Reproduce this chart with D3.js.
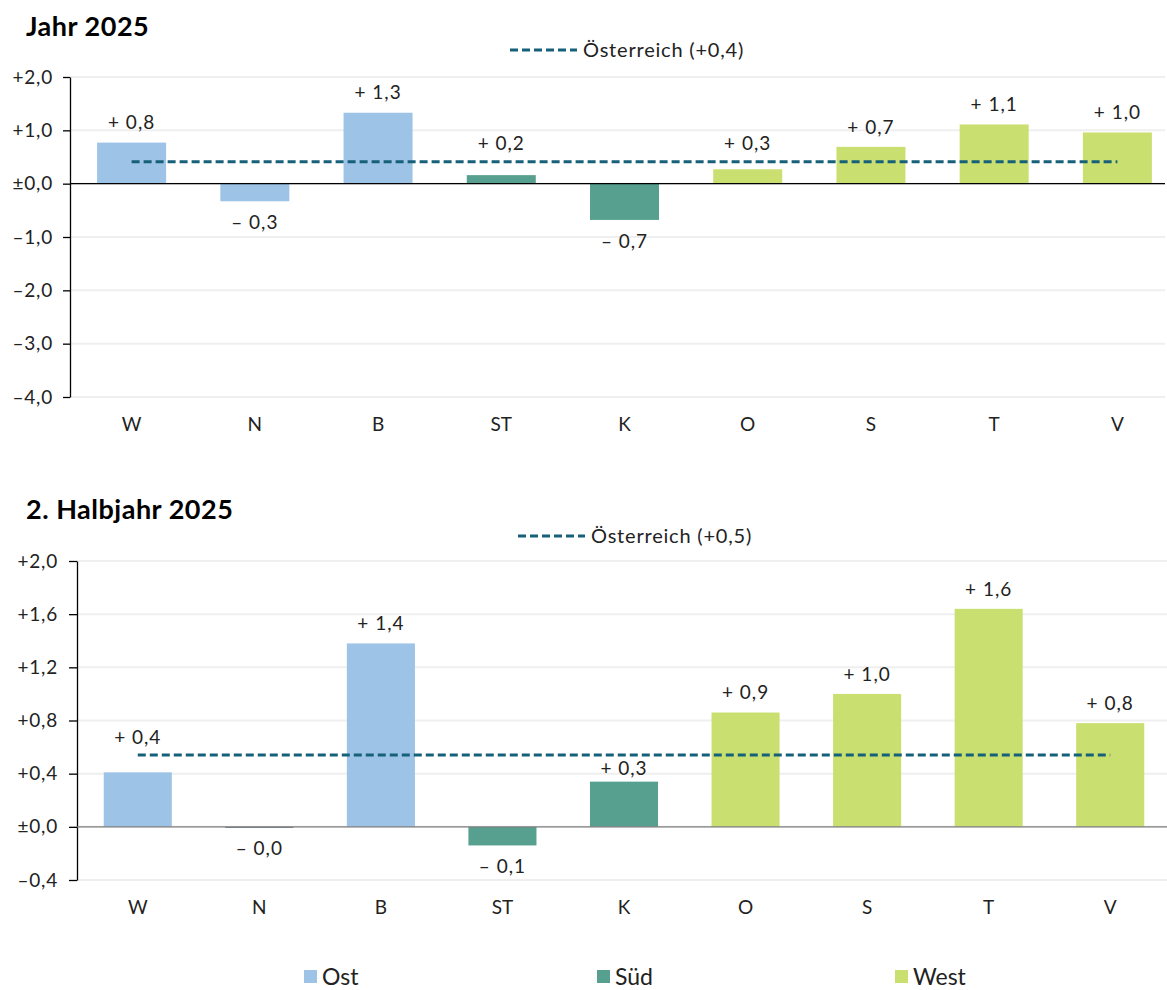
<!DOCTYPE html>
<html>
<head>
<meta charset="utf-8">
<script src="https://cdn.jsdelivr.net/npm/d3@7"></script>
<style>
  html, body { margin: 0; padding: 0; background: #fff; }
  svg { display: block; font-family: Lato, "Noto Sans", sans-serif; }
</style>
</head>
<body>
<svg id="chart" width="1167" height="990"></svg>
<script>
// Regions (Bundesländer) and their group
const regions = ["W", "N", "B", "ST", "K", "O", "S", "T", "V"];
const regionGroup = ["Ost", "Ost", "Ost", "Süd", "Süd", "West", "West", "West", "West"];
const groups = ["Ost", "Süd", "West"];

// Jahr 2025
const yearValues = [0.77, -0.33, 1.33, 0.16, -0.68, 0.27, 0.69, 1.11, 0.96];
const yearAustria = 0.41;
const yearTicks = [2, 1, 0, -1, -2, -3, -4];

// 2. Halbjahr 2025
const halfValues = [0.41, -0.004, 1.38, -0.14, 0.34, 0.86, 1.00, 1.64, 0.78];
const halfAustria = 0.54;
const halfTicks = [2, 1.6, 1.2, 0.8, 0.4, 0, -0.4];

const groupColor = d3.scaleOrdinal()
  .domain(groups)
  .range(["#9dc3e6", "#57a08f", "#c9e070"]);
const lineColor = "#17607a";

const svg = d3.select("#chart");

const fmtNum = v => Math.abs(v).toFixed(1).replace(".", ",");
const tickFmt = v => Math.abs(v) < 1e-9 ? "±0,0" : (v > 0 ? "+" : "–") + fmtNum(v);
const valueFmt = v => (v >= 0 ? "+ " : "– ") + fmtNum(v);

function drawPanel(cfg) {
  const g = svg.append("g");
  const values = cfg.values;

  // the band range runs slightly past the visible plot edge
  const x = d3.scaleBand().domain(regions).range([cfg.left, cfg.bandRight]).paddingInner(0.44).paddingOuter(0.22);
  const y = d3.scaleLinear().domain([cfg.ticks[cfg.ticks.length - 1], cfg.ticks[0]]).range([cfg.bottom, cfg.top]);

  // title
  g.append("text").attr("x", 26).attr("y", cfg.titleY)
    .attr("font-size", 27).attr("font-weight", 700).attr("letter-spacing", 0.5).attr("fill", "#000")
    .text(cfg.title);

  // gridlines
  g.append("g").selectAll("line").data(cfg.ticks).join("line")
    .attr("x1", cfg.left).attr("x2", cfg.right)
    .attr("y1", d => y(d)).attr("y2", d => y(d))
    .attr("stroke", "#efefef").attr("stroke-width", 2);

  // y axis
  const yAxis = g.append("g").attr("transform", `translate(${cfg.left},0)`)
    .call(d3.axisLeft(y).tickValues(cfg.ticks).tickFormat(tickFmt).tickSizeInner(cfg.tickSize).tickSizeOuter(0).tickPadding(cfg.tickPad));
  yAxis.select(".domain").attr("stroke", "#000").attr("stroke-width", 1.3);
  yAxis.selectAll(".tick line").attr("stroke", "#000").attr("stroke-width", 1.3);
  yAxis.selectAll(".tick text").attr("font-size", 19).attr("letter-spacing", 0.8)
    .attr("fill", "#222").attr("font-family", "Lato, sans-serif");

  // bars
  g.append("g").selectAll("rect").data(regions).join("rect")
    .attr("x", d => x(d))
    .attr("width", x.bandwidth())
    .attr("y", (d, i) => Math.min(y(values[i]), y(0)))
    .attr("height", (d, i) => Math.max(Math.abs(y(values[i]) - y(0)), 1))
    .attr("fill", (d, i) => Math.abs(values[i]) < 0.01 ? "#5b6d7a" : groupColor(regionGroup[i]));

  // zero line
  g.append("line").attr("x1", cfg.left).attr("x2", cfg.right)
    .attr("y1", y(0)).attr("y2", y(0))
    .attr("stroke", cfg.zeroColor).attr("stroke-width", 1.3);

  // Austria average line
  const yLine = y(cfg.austria);
  g.append("line")
    .attr("x1", x(regions[0]) + x.bandwidth() / 2)
    .attr("x2", x(regions[regions.length - 1]) + x.bandwidth() / 2)
    .attr("y1", yLine).attr("y2", yLine)
    .attr("stroke", lineColor).attr("stroke-width", 3).attr("stroke-dasharray", "8,4");

  // value labels (kept clear of the average line)
  g.append("g").selectAll("text").data(regions).join("text")
    .attr("x", d => x(d) + x.bandwidth() / 2)
    .attr("y", (d, i) => {
      const v = values[i];
      if (v <= 0) return y(v) + 21;
      const top = y(v);
      if (v < cfg.austria) {
        const gap = top - yLine;
        return gap >= 25 ? (top + yLine) / 2 : yLine - 18;
      }
      return top - 20;
    })
    .attr("dy", "0.35em").attr("text-anchor", "middle")
    .attr("font-size", 19).attr("letter-spacing", 1).attr("fill", "#222")
    .text((d, i) => valueFmt(values[i]));

  // category labels
  const xAxis = g.append("g").attr("transform", `translate(0,${cfg.catY})`)
    .call(d3.axisBottom(x).tickSize(0).tickPadding(0));
  xAxis.select(".domain").remove();
  xAxis.selectAll(".tick text").attr("font-size", 19).attr("fill", "#222")
    .attr("dy", "0.35em").attr("font-family", "Lato, sans-serif");

  // legend for the average line
  const lg = g.append("g").attr("transform", `translate(${cfg.legendX},${cfg.legendY})`);
  lg.append("line").attr("x1", 0).attr("x2", 67).attr("y1", 0).attr("y2", 0)
    .attr("stroke", lineColor).attr("stroke-width", 3).attr("stroke-dasharray", "8,4");
  lg.append("text").attr("x", 73).attr("y", 0).attr("dy", "0.35em")
    .attr("font-size", 20).attr("letter-spacing", 0.8).attr("fill", "#222")
    .text(`Österreich (${tickFmt(Math.round(cfg.austria * 10) / 10)})`);
}

drawPanel({
  title: "Jahr 2025", titleY: 36,
  values: yearValues, austria: yearAustria, ticks: yearTicks,
  left: 70, right: 1165, bandRight: 1179, top: 77, bottom: 397,
  tickSize: 7, tickPad: 10, zeroColor: "#000",
  catY: 424, legendX: 510, legendY: 50
});

drawPanel({
  title: "2. Halbjahr 2025", titleY: 519,
  values: halfValues, austria: halfAustria, ticks: halfTicks,
  left: 77, right: 1167, bandRight: 1171, top: 561, bottom: 880,
  tickSize: 8, tickPad: 11, zeroColor: "#7f7f7f",
  catY: 907, legendX: 518, legendY: 536
});

// group legend
const legendX = [304, 597, 895];
const gl = svg.append("g").selectAll("g").data(groups).join("g")
  .attr("transform", (d, i) => `translate(${legendX[i]},970)`);
gl.append("rect").attr("width", 13).attr("height", 13).attr("fill", d => groupColor(d));
gl.append("text").attr("x", 18).attr("y", 7).attr("dy", "0.35em")
  .attr("font-size", 23).attr("fill", "#222").text(d => d);
</script>
</body>
</html>
